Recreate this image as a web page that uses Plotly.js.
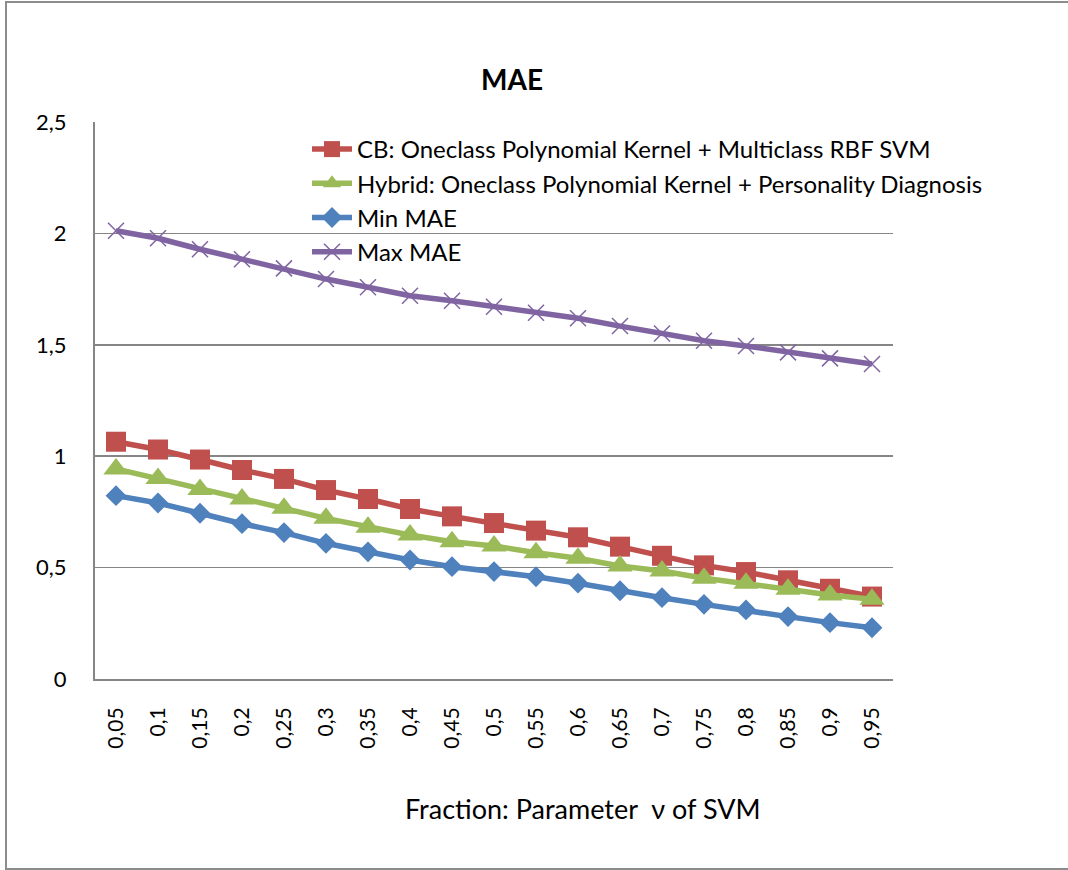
<!DOCTYPE html>
<html>
<head>
<meta charset="utf-8">
<script src="https://cdn.plot.ly/plotly-3.0.1.min.js"></script>
<style>
html,body{margin:0;padding:0;background:#fff;overflow:hidden;}
#frame{position:absolute;left:5px;top:1px;width:1090px;height:869px;border:2px solid #8c8c8c;box-sizing:border-box;}
#chart{position:absolute;left:0;top:0;width:1068px;height:870px;}
</style>
</head>
<body>
<div id="frame"></div>
<div id="chart"></div>
<script>
const categories = ["0,05","0,1","0,15","0,2","0,25","0,3","0,35","0,4","0,45","0,5","0,55","0,6","0,65","0,7","0,75","0,8","0,85","0,9","0,95"];
const cbValues = [1.065,1.03,0.985,0.938,0.898,0.848,0.808,0.763,0.73,0.7,0.666,0.636,0.594,0.553,0.51,0.48,0.443,0.405,0.37];
const hybridValues = [0.943,0.9,0.851,0.808,0.766,0.721,0.681,0.646,0.616,0.597,0.567,0.542,0.507,0.485,0.452,0.43,0.403,0.377,0.358];
const minValues = [0.823,0.79,0.744,0.697,0.657,0.609,0.571,0.534,0.504,0.482,0.459,0.43,0.396,0.365,0.335,0.31,0.28,0.253,0.23];
const maxValues = [2.012,1.978,1.929,1.884,1.843,1.795,1.758,1.72,1.698,1.671,1.644,1.619,1.584,1.551,1.518,1.495,1.466,1.439,1.414];
const seriesNames = ["CB: Oneclass Polynomial Kernel + Multiclass RBF SVM","Hybrid: Oneclass Polynomial Kernel + Personality Diagnosis","Min MAE","Max MAE"];
const chartTitle = "MAE";
const xTitle = "Fraction: Parameter  ν of SVM";

const font = "Lato, 'Open Sans', sans-serif";
const traces = [
  {x:categories,y:cbValues,name:seriesNames[0],mode:"lines+markers",type:"scatter",
   line:{color:"#C0504D",width:5.5},marker:{symbol:"square",size:20,color:"#C0504D"}},
  {x:categories,y:hybridValues,name:seriesNames[1],mode:"lines+markers",type:"scatter",
   line:{color:"#9BBB59",width:5.5},marker:{symbol:"triangle-up",size:22,color:"#9BBB59"}},
  {x:categories,y:minValues,name:seriesNames[2],mode:"lines+markers",type:"scatter",
   line:{color:"#4F81BD",width:5.5},marker:{symbol:"diamond",size:16,color:"#4F81BD"}},
  {x:categories,y:maxValues,name:seriesNames[3],mode:"lines+markers",type:"scatter",
   line:{color:"#8064A2",width:5.5},marker:{symbol:"x-thin-open",size:16,color:"#8064A2",line:{width:1.5,color:"#8064A2"}}}
];
const layout = {
  width:1068,height:870,
  paper_bgcolor:"rgba(0,0,0,0)",plot_bgcolor:"rgba(0,0,0,0)",
  margin:{l:95,r:175,t:122,b:191},
  separators:",.",
  font:{family:font,color:"#000",size:21},
  title:{text:"<b>"+chartTitle+"</b>",x:512/1068,xanchor:"center",y:1-80/870,yanchor:"middle",font:{family:font,size:28,color:"#000"}},
  xaxis:{type:"category",range:[-0.5,18.5],tickangle:-90,showgrid:false,showline:true,linecolor:"#868686",linewidth:2,
    ticks:"outside",ticklen:18,tickcolor:"rgba(0,0,0,0)",tickfont:{size:21,family:font}},
  yaxis:{range:[0,2.5],dtick:0.5,tick0:0,showgrid:true,gridcolor:"#868686",gridwidth:1.5,showline:true,linecolor:"#868686",linewidth:2,
    ticks:"outside",ticklen:22,tickcolor:"rgba(0,0,0,0)",tickfont:{size:22,family:font},zeroline:false},
  legend:{x:(307-95)/798,y:(679-127)/557,xanchor:"left",yanchor:"top",bgcolor:"rgba(0,0,0,0)",font:{size:24,family:font},
    tracegroupgap:0,itemwidth:40},
  annotations:[{text:xTitle,xref:"paper",yref:"paper",x:(583-95)/798,y:-(808-679)/557,xanchor:"center",yanchor:"middle",showarrow:false,
    font:{size:27,family:font,color:"#000"}}],
  showlegend:true
};
Plotly.newPlot("chart",traces,layout,{displayModeBar:false,staticPlot:true});
</script>
</body>
</html>
